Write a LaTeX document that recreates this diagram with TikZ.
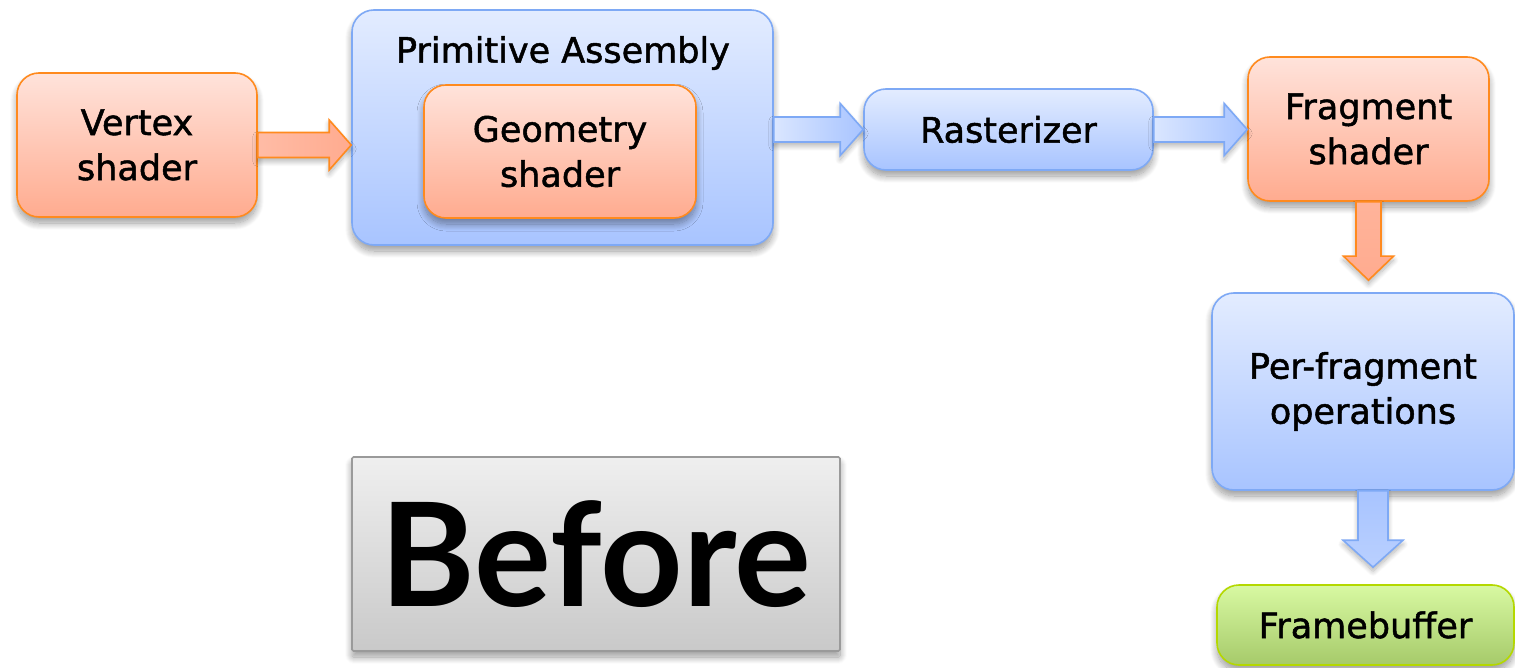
\documentclass[tikz,border=0pt]{standalone}
\usepackage{fontspec}
\setmainfont{DejaVu Sans}
\newfontfamily\stagefamily{DejaVu Sans}[FakeBold=1.4]
\newfontfamily\captionfamily{Lato}
\usetikzlibrary{calc,shadows.blur}

\definecolor{orangetop}{HTML}{FFE3DB}
\definecolor{orangebot}{HTML}{FFAB8F}
\definecolor{orangeline}{HTML}{FF8A1E}
\definecolor{bluetop}{HTML}{E3ECFF}
\definecolor{bluebot}{HTML}{A8C4FF}
\definecolor{blueline}{HTML}{7EA9F5}
\definecolor{greentop}{HTML}{D8F9A2}
\definecolor{greenbot}{HTML}{A6CA6A}
\definecolor{greenline}{HTML}{B4D800}
\definecolor{greytop}{HTML}{EFEFEF}
\definecolor{greybot}{HTML}{C9C9C9}
\definecolor{greyline}{HTML}{9A9A9A}

\newcommand\labelfont{\stagefamily\fontsize{35}{45}\selectfont}

% horizontal block arrow: style, start, tip, shaft half width, head half width, head length
\newcommand\harrow[6]{%
  \path[#1] let \p1=(#2), \p2=(#3) in
    (\x1,\y1+#4) -- (\x2-#6,\y1+#4) -- (\x2-#6,\y1+#5) -- (\x2,\y1)
    -- (\x2-#6,\y1-#5) -- (\x2-#6,\y1-#4) -- (\x1,\y1-#4) -- cycle;}
% downward block arrow: style, start, tip, shaft half width, head half width, head length
\newcommand\varrow[6]{%
  \path[#1] let \p1=(#2), \p2=(#3) in
    (\x1-#4,\y1) -- (\x1-#4,\y2+#6) -- (\x1-#5,\y2+#6) -- (\x1,\y2)
    -- (\x1+#5,\y2+#6) -- (\x1+#4,\y2+#6) -- (\x1+#4,\y1) -- cycle;}

\tikzset{
  x=1pt, y=1pt,
  softshadow/.style={blur shadow={shadow xshift=0pt, shadow yshift=-6pt,
      shadow blur radius=7pt, shadow blur steps=14, shadow opacity=40}},
  box/.style={rectangle, rounded corners=22pt, line width=1.6pt, align=center,
      inner sep=0pt, font=\labelfont, text=black, softshadow},
  orangebox/.style={box, draw=orangeline, top color=orangetop, bottom color=orangebot},
  bluebox/.style={box, draw=blueline, top color=bluetop, bottom color=bluebot},
  greenbox/.style={box, draw=greenline, top color=greentop, bottom color=greenbot},
  greybox/.style={rectangle, rounded corners=1.5pt, line width=1.6pt, inner sep=0pt,
      draw=greyline, top color=greytop, bottom color=greybot, softshadow},
  arrowshadow/.style={blur shadow={shadow xshift=0pt, shadow yshift=-4pt,
      shadow blur radius=5pt, shadow blur steps=10, shadow opacity=30}},
  orangeH/.style={draw=orangeline, line width=1.6pt, line join=miter, arrowshadow,
      left color=orangebot!70!orangetop, middle color=orangetop!90!white, right color=orangebot},
  orangeV/.style={draw=orangeline, line width=1.6pt, line join=miter, arrowshadow,
      top color=orangebot!85!orangetop, middle color=orangetop!85!orangebot, bottom color=orangebot},
  blueH/.style={draw=blueline, line width=1.6pt, line join=miter, arrowshadow,
      left color=bluetop!85!bluebot, middle color=bluetop, right color=bluebot},
  blueV/.style={draw=blueline, line width=1.6pt, line join=miter, arrowshadow,
      top color=bluebot, middle color=bluetop!90!bluebot, bottom color=bluebot!70!bluetop},
}

\begin{document}
\begin{tikzpicture}
\useasboundingbox (0,0) rectangle (1515,-668);

% pipeline stages
\node[orangebox, minimum width=240pt, minimum height=144pt] (v) at (137,-145) {Vertex\\shader};
\node[bluebox, minimum width=421pt, minimum height=235pt] (pa) at (562.5,-127.5) {};
\node[font=\labelfont] (patitle) at (563,-53) {Primitive Assembly};
\node[orangebox, minimum width=272pt, minimum height=133pt] (g) at (560,-151.5) {Geometry\\shader};
\node[bluebox, minimum width=289pt, minimum height=81pt] (r) at (1008.5,-129.5) {Rasterizer};
\node[orangebox, minimum width=241pt, minimum height=144pt] (f) at (1368.5,-129) {Fragment\\shader};
\node[bluebox, minimum width=302pt, minimum height=197pt] (pf) at (1363,-391.5) {Per-fragment\\operations};
\node[greenbox, minimum width=297pt, minimum height=80pt] (fb) at (1365.5,-625) {Framebuffer};

% caption box
\node[greybox, minimum width=488pt, minimum height=194pt] (before) at (596,-554)
  {\captionfamily\bfseries\fontsize{144}{144}\selectfont Before};

% connectors
\coordinate (fin) at ($(pf.north)+(0,12)$);
\coordinate (pfout) at ($(pf.south)+(10,0)$);
\coordinate (fbin) at ($(pfout |- fb.north)+(0,17)$);

\harrow{orangeH}{v.east}{pa.west |- v.east}{12.5}{25}{22}
\harrow{blueH}{pa.east |- r.west}{r.west}{12.5}{26}{23}
\harrow{blueH}{r.east}{f.west |- r.east}{12.5}{26}{23}
\varrow{orangeV}{f.south}{fin}{12.5}{25}{24}
\varrow{blueV}{pfout}{fbin}{15}{30}{27}
\end{tikzpicture}
\end{document}
